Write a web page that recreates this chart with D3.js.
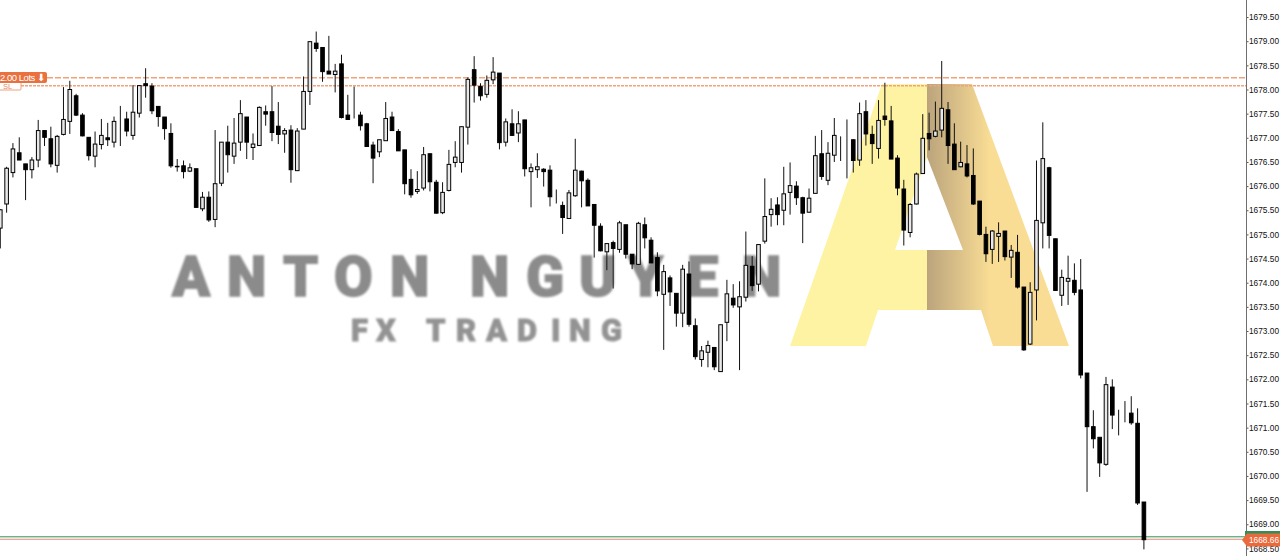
<!DOCTYPE html>
<html>
<head>
<meta charset="utf-8">
<script src="https://cdnjs.cloudflare.com/ajax/libs/d3/7.8.5/d3.min.js"></script>
<style>
html, body { margin: 0; padding: 0; background: #fff; overflow: hidden; }
svg { display: block; }
.axis text { font-family: "Liberation Sans", sans-serif; font-size: 8.3px; fill: #111; }
</style>
</head>
<body>
<div id="chart"></div>
<script>
var width = 1280, height = 556;
var axisX = 1246.5;

// candles, oldest first
var opens = [
1675.13,1675.63,1676.28,1676.69,1676.46,1676.34,1676.54,1677.15,1676.98,1676.43,
1677.07,1677.34,1677.87,1677.47,1677.01,1676.62,1676.86,1677.00,1676.91,1677.36,
1677.39,1677.05,1677.51,1678.12,1678.07,1677.65,1677.43,1677.09,1676.41,1676.42,
1676.31,1676.36,1675.53,1675.77,1675.31,1676.06,1676.91,1676.62,1676.91,1677.43,
1676.80,1676.84,1677.54,1677.54,1677.24,1677.08,1677.16,1676.32,1677.18,1677.96,
1678.96,1678.87,1678.38,1678.31,1678.53,1677.47,1677.49,1677.47,1677.29,1676.85,
1676.71,1676.94,1677.43,1677.13,1676.75,1676.14,1675.89,1675.96,1676.67,1676.08,
1675.45,1675.91,1676.49,1676.49,1677.22,1678.41,1678.06,1677.90,1678.20,1678.34,
1676.91,1677.29,1677.10,1677.37,1676.30,1676.34,1676.35,1676.33,1675.72,1675.60,
1675.33,1675.80,1676.31,1676.12,1675.62,1675.17,1674.64,1674.83,1674.69,1675.20,
1674.59,1674.38,1675.20,1674.88,1674.52,1673.76,1674.10,1673.78,1673.37,1674.18,
1673.11,1672.41,1672.56,1672.66,1672.16,1673.18,1673.68,1673.50,1673.70,1674.34,
1673.97,1674.86,1675.41,1675.61,1675.50,1675.87,1676.00,1675.76,1675.46,1675.85,
1676.67,1676.12,1676.64,1677.03,1676.99,1676.96,1676.54,1677.54,1677.07,1676.78,
1677.45,1677.35,1676.58,1675.94,1675.04,1675.63,1676.26,1677.09,1677.03,1677.16,
1677.58,1676.87,1676.40,1676.46,1676.22,1675.69,1675.00,1674.69,1674.96,1675.07,
1674.53,1674.63,1673.91,1672.73,1673.85,1675.24,1676.38,1674.91,1673.74,1674.03,
1674.05,1673.85,1672.13,1671.02,1670.80,1670.24,1671.84,1671.35,1671.23,1671.30,
1671.09,1669.46];
var highs = [
1675.52,1676.40,1676.89,1677.01,1676.46,1676.60,1677.37,1677.15,1677.23,1677.06,
1678.05,1678.18,1677.91,1677.51,1677.01,1677.13,1677.39,1677.31,1677.44,1677.66,
1677.54,1678.09,1678.09,1678.44,1678.13,1677.65,1677.43,1677.30,1676.56,1676.53,
1676.47,1676.36,1675.88,1675.89,1677.16,1676.91,1677.25,1677.41,1677.78,1677.43,
1677.09,1677.65,1677.67,1678.07,1677.74,1677.20,1677.26,1677.20,1678.27,1678.99,
1679.20,1678.87,1679.11,1678.53,1678.72,1677.89,1678.06,1677.54,1677.31,1676.92,
1676.96,1677.74,1677.54,1677.18,1676.75,1676.35,1676.31,1676.81,1676.67,1676.13,
1676.08,1676.75,1676.93,1677.23,1678.25,1678.69,1678.13,1678.29,1678.67,1678.34,
1677.40,1677.59,1677.55,1677.37,1676.47,1676.68,1676.37,1676.43,1675.93,1675.68,
1675.92,1676.98,1676.32,1676.16,1675.62,1675.23,1674.81,1674.87,1675.28,1675.20,
1674.59,1675.26,1675.35,1674.94,1674.63,1674.37,1674.15,1673.78,1674.37,1674.44,
1673.26,1672.69,1672.80,1672.66,1673.13,1674.06,1673.97,1674.03,1675.06,1674.55,
1674.79,1676.16,1675.75,1675.77,1676.40,1676.49,1676.10,1675.78,1675.95,1677.04,
1677.16,1676.91,1677.41,1677.03,1677.38,1676.97,1677.73,1677.78,1677.25,1677.78,
1678.14,1677.66,1676.64,1676.13,1675.65,1676.28,1677.49,1677.52,1677.75,1678.59,
1677.74,1677.30,1676.92,1676.85,1676.78,1675.69,1675.16,1675.09,1675.25,1675.07,
1674.78,1674.99,1673.91,1674.01,1676.53,1677.32,1676.40,1674.91,1674.27,1674.56,
1674.40,1674.49,1672.13,1671.36,1670.80,1672.05,1672.00,1671.37,1671.55,1671.65,
1671.40,1669.46];
var lows = [
1674.71,1675.45,1676.18,1676.54,1675.71,1676.16,1676.39,1676.83,1676.39,1676.28,
1677.05,1677.08,1677.45,1677.03,1676.53,1676.39,1676.76,1676.83,1676.80,1676.83,
1677.03,1676.96,1677.42,1677.83,1677.49,1677.23,1676.96,1676.38,1676.30,1676.16,
1676.29,1675.55,1675.48,1675.26,1675.15,1676.00,1676.28,1676.46,1676.73,1676.56,
1676.54,1676.83,1677.25,1676.93,1676.87,1676.69,1676.07,1676.32,1677.18,1677.68,
1678.78,1678.16,1678.32,1677.94,1677.40,1677.38,1677.40,1677.15,1676.81,1676.06,
1676.60,1676.94,1677.15,1676.73,1675.83,1675.76,1675.84,1675.91,1675.89,1675.43,
1675.42,1675.89,1676.39,1676.28,1676.86,1677.73,1677.77,1677.83,1678.11,1676.76,
1676.82,1677.04,1676.91,1676.20,1675.56,1676.17,1675.99,1675.58,1675.64,1675.01,
1675.33,1675.78,1675.56,1675.59,1674.52,1674.65,1674.26,1673.88,1674.62,1674.50,
1674.28,1674.37,1674.71,1674.41,1673.72,1672.61,1673.52,1673.09,1673.08,1673.09,
1672.41,1672.26,1672.25,1672.19,1672.16,1672.79,1673.48,1672.19,1673.61,1673.83,
1673.82,1674.81,1675.16,1675.19,1675.19,1675.41,1675.61,1674.82,1675.45,1675.85,
1676.13,1676.02,1676.50,1676.52,1676.16,1676.28,1676.42,1676.84,1676.46,1676.57,
1677.25,1676.56,1675.81,1674.77,1674.94,1675.62,1676.25,1676.74,1677.01,1677.01,
1676.46,1676.34,1676.39,1676.18,1675.61,1674.98,1674.43,1674.39,1674.43,1674.46,
1674.10,1673.88,1672.59,1672.71,1673.22,1674.71,1674.71,1673.84,1673.52,1673.54,
1673.74,1672.02,1669.67,1670.57,1669.98,1670.21,1670.97,1670.84,1671.11,1671.06,
1669.40,1668.48];
var closes = [
1675.51,1676.37,1676.77,1676.54,1676.34,1676.54,1677.15,1677.01,1676.46,1677.03,
1677.38,1678.00,1677.47,1677.04,1676.63,1676.87,1677.05,1676.96,1677.34,1677.36,
1677.14,1677.53,1678.08,1678.08,1677.56,1677.44,1677.19,1676.42,1676.40,1676.30,
1676.38,1675.56,1675.77,1675.30,1676.05,1676.91,1676.65,1676.89,1677.50,1676.91,
1676.87,1677.63,1677.49,1677.11,1677.07,1677.15,1676.34,1677.14,1677.96,1678.99,
1678.85,1678.37,1678.32,1678.38,1677.42,1677.38,1677.49,1677.25,1676.82,1676.58,
1676.96,1677.40,1677.15,1676.73,1676.05,1675.82,1675.93,1676.65,1676.09,1675.44,
1675.87,1676.45,1676.60,1677.23,1678.21,1678.09,1677.87,1678.19,1678.36,1676.90,
1677.33,1677.05,1677.29,1676.36,1676.38,1676.40,1676.30,1675.78,1675.72,1675.35,
1675.86,1676.33,1676.11,1675.59,1675.19,1674.66,1674.81,1674.71,1675.24,1674.59,
1674.39,1675.23,1674.93,1674.41,1673.83,1674.23,1673.81,1673.37,1674.28,1673.14,
1672.47,1672.59,1672.70,1672.26,1673.13,1673.77,1673.54,1673.71,1674.36,1673.94,
1674.79,1675.37,1675.52,1675.41,1675.84,1676.01,1675.76,1675.44,1675.75,1676.63,
1676.20,1676.68,1677.05,1677.03,1676.99,1676.53,1677.50,1677.08,1676.88,1677.36,
1677.38,1676.56,1675.96,1675.09,1675.62,1676.25,1676.99,1676.98,1677.14,1677.61,
1676.84,1676.34,1676.49,1676.21,1675.63,1675.00,1674.60,1675.07,1675.02,1674.54,
1674.67,1673.91,1672.61,1673.80,1675.29,1676.57,1674.98,1673.84,1674.11,1674.09,
1673.80,1672.09,1671.02,1670.77,1670.27,1671.89,1671.26,1671.35,1671.23,1671.10,
1669.44,1668.68];

var priceTicks = [1668.5,1669,1669.5,1670,1670.5,1671,1671.5,1672,1672.5,1673,1673.5,1674,1674.5,1675,1675.5,1676,1676.5,1677,1677.5,1678,1678.5,1679,1679.5];
var orderLevel = 1678.245, slLevel = 1678.08, askLevel = 1668.74, bidLevel = 1668.69;
var bidLabel = "1668.66", orderLabel = "2.00 Lots \u2B07", slLabel = "SL";

var x = d3.scaleLinear().domain([0, 181]).range([0.3, 1143.9]);
var y = d3.scaleLinear().domain([1678, 1668.5]).range([89.5, 548.4]);
var candles = d3.range(opens.length);

var svg = d3.select("#chart").append("svg")
	.attr("width", width)
	.attr("height", height);

var defs = svg.append("defs");
defs.append("filter").attr("id", "soft")
	.append("feGaussianBlur").attr("stdDeviation", 0.9);
defs.append("filter").attr("id", "softer")
	.append("feGaussianBlur").attr("stdDeviation", 0.7);
var grad = defs.append("linearGradient").attr("id", "aRight")
	.attr("gradientUnits", "userSpaceOnUse")
	.attr("x1", 927).attr("x2", 990).attr("y1", 0).attr("y2", 0);
grad.append("stop").attr("offset", 0).attr("stop-color", "#bba47c");
grad.append("stop").attr("offset", 1).attr("stop-color", "#f9dd95");

drawWatermark();
drawLevels();
drawCandles();
drawAxis();
drawTags();

function drawWatermark()
{
	var mark = svg.append("g");

	mark.append("path")
		.attr("d", "M882,84L927,84L927,157L895,250L927,250L927,310L878,310L866,346L790,346Z")
		.attr("fill", "#fef3a2")
		.attr("filter", "url(#softer)");
	mark.append("path")
		.attr("d", "M927,84L972,84L1069,346L993,346L981,310L927,310L927,250L963,250L927,157Z")
		.attr("fill", "url(#aRight)")
		.attr("filter", "url(#softer)");

	// letters are spaced by hand, the logo tracking is uneven
	mark.append("text")
		.text("ANTON NGUYEN")
		.attr("x", "172,227,283,334,390,450,470,526,579,628,687,742")
		.attr("y", 295.5)
		.attr("font-family", "Roboto")
		.attr("font-weight", 900)
		.attr("font-size", 56)
		.attr("fill", "#8b8b8b")
		.attr("stroke", "#8b8b8b")
		.attr("stroke-width", 1.4)
		.attr("filter", "url(#soft)");

	mark.append("text")
		.text("FX TRADING")
		.attr("x", "351,376,410,426,456,486,517,551,569,601")
		.attr("y", 340.5)
		.attr("font-family", "Roboto")
		.attr("font-weight", 900)
		.attr("font-size", 31)
		.attr("fill", "#939393")
		.attr("stroke", "#939393")
		.attr("stroke-width", 0.8)
		.attr("filter", "url(#soft)");
}

function drawLevels()
{
	var lv = svg.append("g").attr("fill", "none");

	lv.append("line")
		.attr("x1", 47).attr("x2", axisX)
		.attr("y1", y(orderLevel)).attr("y2", y(orderLevel))
		.attr("stroke", "#f0a47c")
		.attr("stroke-width", 1.5)
		.attr("stroke-dasharray", "6,2");
	lv.append("line")
		.attr("x1", 21).attr("x2", axisX)
		.attr("y1", y(slLevel)).attr("y2", y(slLevel))
		.attr("stroke", "#f0a47c")
		.attr("stroke-width", 1.5)
		.attr("stroke-dasharray", "3,1");
	lv.append("line")
		.attr("x1", 0).attr("x2", axisX)
		.attr("y1", y(askLevel)).attr("y2", y(askLevel))
		.attr("stroke", "#2f8f57");
	lv.append("line")
		.attr("x1", 0).attr("x2", axisX)
		.attr("y1", y(bidLevel)).attr("y2", y(bidLevel))
		.attr("stroke", "#dd8a78");
}

function drawCandles()
{
	var g = svg.append("g");

	g.selectAll(".wick")
		.data(candles)
		.enter().append("line")
		.attr("class", "wick")
		.attr("x1", function(i){ return x(i); })
		.attr("x2", function(i){ return x(i); })
		.attr("y1", function(i){ return y(highs[i]); })
		.attr("y2", function(i){ return y(lows[i]); })
		.attr("stroke", "#111")
		.attr("stroke-width", 1);

	g.selectAll(".body")
		.data(candles)
		.enter().append("rect")
		.attr("class", "body")
		.attr("x", function(i){ return x(i) - 1.8; })
		.attr("width", 3.6)
		.attr("y", function(i){ return y(Math.max(opens[i], closes[i])); })
		.attr("height", function(i){ return Math.abs(y(opens[i]) - y(closes[i])); })
		.attr("fill", function(i){ return closes[i] >= opens[i] ? "#e8e8e8" : "#000"; })
		.attr("stroke", "#000")
		.attr("stroke-width", 1);
}

function drawAxis()
{
	var axis = d3.axisRight(y)
		.tickValues(priceTicks)
		.tickFormat(d3.format(".2f"))
		.tickSize(2)
		.tickPadding(0.5);

	var g = svg.append("g")
		.attr("class", "axis")
		.attr("transform", "translate(" + axisX + ",0)")
		.call(axis);

	g.select(".domain").remove();
	g.selectAll(".tick line").attr("stroke", "#555");

	g.append("line")
		.attr("x1", 0).attr("x2", 0)
		.attr("y1", 0).attr("y2", height)
		.attr("stroke", "#6e6e6e");
}

function drawTags()
{
	// stop loss box goes under the order tag
	svg.append("rect")
		.attr("x", -2).attr("y", 80)
		.attr("width", 23).attr("height", 10)
		.attr("rx", 1)
		.attr("fill", "#fff")
		.attr("stroke", "#eda27f");
	svg.append("text")
		.text(slLabel)
		.attr("x", 3).attr("y", 88.5)
		.attr("font-family", "Liberation Sans")
		.attr("font-size", 7.5)
		.attr("fill", "#e08a66");

	svg.append("rect")
		.attr("x", -3).attr("y", 72)
		.attr("width", 50).attr("height", 11)
		.attr("rx", 2)
		.attr("fill", "#e9703f");
	svg.append("text")
		.text(orderLabel)
		.attr("x", 0).attr("y", 81)
		.attr("textLength", 45)
		.attr("font-family", "Liberation Sans")
		.attr("font-size", 9.5)
		.attr("fill", "#fff");

	svg.append("path")
		.attr("d", "M1245,531L1280,531L1280,540L1245,540Z")
		.attr("fill", "#2f8f57");
	svg.append("path")
		.attr("d", "M1242,540L1247,533.5L1280,533.5L1280,546.5L1247,546.5Z")
		.attr("fill", "#ea6a3c");
	svg.append("text")
		.text(bidLabel)
		.attr("x", 1249).attr("y", 543.2)
		.attr("font-family", "Liberation Sans")
		.attr("font-size", 8.3)
		.attr("fill", "#fff");
}
</script>
</body>
</html>
